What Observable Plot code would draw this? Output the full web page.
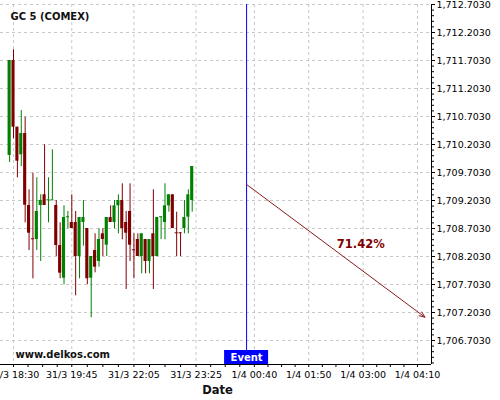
<!DOCTYPE html>
<html><head><meta charset="utf-8">
<script src="https://cdn.jsdelivr.net/npm/d3@7"></script>
<script src="https://cdn.jsdelivr.net/npm/@observablehq/plot@0.6"></script>
<style>
html,body{margin:0;padding:0;background:#fff;}
#chart svg{display:block;}
</style></head><body><div id="chart"></div>
<script>
const symbolName = "GC 5 (COMEX)";
const watermark = "www.delkos.com";
const axisTitle = "Date";

const opens = [1710.007,1711.703,1710.512,1710.019,1710.399,1709.114,1708.519,1708.507,1709.114,1709.305,
  1709.215,1709.215,1709.114,1708.399,1707.815,1708.912,1708.810,1708.810,1708.203,1708.810,
  1708.703,1707.815,1708.310,1708.114,1708.608,1708.405,1708.899,1708.810,1709.108,1709.203,
  1708.810,1709.007,1708.323,1708.507,1708.203,1708.507,1708.114,1708.608,1708.203,1708.912,
  1708.810,1709.108,1709.305,1708.626,1708.626,1708.703,1708.905,1709.203];
const highs = [1711.703,1711.894,1710.512,1710.810,1710.690,1709.394,1709.690,1709.608,1709.305,1710.198,
  1709.608,1710.108,1709.203,1708.805,1709.108,1709.007,1709.305,1709.007,1708.899,1709.203,
  1708.703,1708.203,1708.608,1708.698,1708.698,1708.899,1709.108,1709.203,1709.305,1709.501,
  1709.007,1709.501,1708.608,1708.608,1708.608,1708.507,1708.507,1709.394,1708.899,1708.912,
  1709.501,1709.305,1709.305,1708.994,1708.626,1709.203,1709.394,1709.810];
const lows = [1709.882,1710.305,1709.608,1709.810,1708.805,1708.310,1707.805,1708.310,1708.114,1709.114,
  1708.805,1709.215,1708.203,1707.805,1707.698,1708.698,1708.703,1707.501,1707.805,1708.387,
  1707.698,1707.108,1707.912,1708.012,1708.203,1708.203,1708.810,1708.698,1708.608,1708.501,
  1707.614,1708.114,1707.805,1708.203,1707.894,1707.894,1707.894,1707.614,1708.203,1708.507,
  1708.501,1708.994,1708.703,1708.203,1708.203,1708.608,1708.608,1708.994];
const closes = [1711.703,1710.512,1709.905,1710.399,1709.119,1708.619,1708.519,1709.007,1709.203,1709.114,
  1709.215,1709.215,1708.399,1707.905,1708.899,1708.912,1708.703,1708.203,1708.899,1708.899,
  1707.805,1708.203,1708.012,1708.507,1708.507,1708.899,1708.810,1709.108,1709.203,1708.703,
  1708.619,1708.405,1708.323,1708.203,1708.608,1708.114,1708.507,1708.203,1708.899,1708.912,
  1709.108,1709.305,1708.703,1708.626,1708.626,1708.899,1709.305,1709.810];

const tickIndex = [1, 16, 32, 48, 63, 77, 91, 105];
const tickLabels = ["31/3 18:30","31/3 19:45","31/3 22:05","31/3 23:25","1/4 00:40","1/4 01:50","1/4 03:00","1/4 04:10"];
const yTicks = [1706.703,1707.203,1707.703,1708.203,1708.703,1709.203,1709.703,1710.203,1710.703,1711.203,1711.703,1712.203,1712.703];

const eventIndex = 61;
const eventLabel = "Event";
const forecastFrom = [61, 1709.489];
const forecastTo = [106.9, 1707.119];
const forecastText = "71.42%";

// ---- build tables ----
const UP = "#008000", DOWN = "#800000";
const candles = opens.map((o, i) => ({i, open: o, high: highs[i], low: lows[i], close: closes[i]}));
let prevColor = UP;
candles.forEach((d, k) => {
  const prevClose = k ? candles[k - 1].close : d.open;
  if (d.close > d.open) d.color = UP;
  else if (d.close < d.open) d.color = DOWN;
  else d.color = d.close > prevClose ? UP : d.close < prevClose ? DOWN : prevColor;
  prevColor = d.color;
});
const bodies = candles.filter(d => d.open !== d.close);
const dojis = candles.filter(d => d.open === d.close);
const labelMap = new Map(tickIndex.map((t, k) => [t, tickLabels[k]]));

const xDomain = [-2.35, 108.6];
const yDomain = [1706.2744, 1712.703];

const minorX = [];
for (let k = 0; k < tickIndex.length - 1; k++) {
  const a = tickIndex[k], b = tickIndex[k + 1];
  for (let j = 1; j < 4; j++) minorX.push(a + (b - a) * j / 4);
}
const minorY = [];
for (let v = yTicks[0] - 0.4; v < yTicks[yTicks.length - 1]; v += 0.1) {
  const r = Math.round(v * 1000) / 1000;
  if (!yTicks.some(t => Math.abs(t - r) < 1e-6) && r > yDomain[0]) minorY.push(r);
}
const forecast = [{x1: forecastFrom[0], y1: forecastFrom[1], x2: forecastTo[0], y2: forecastTo[1], label: forecastText}];
const gridStyle = {stroke: "#c8c8c8", strokeOpacity: 1, strokeDasharray: "3,3", strokeWidth: 1};

const chart = Plot.plot({
  width: 500, height: 400,
  marginLeft: 0, marginRight: 69, marginTop: 4, marginBottom: 36,
  style: {fontFamily: "'DejaVu Sans', sans-serif", fontSize: "9.5px", background: "#fff", color: "#000"},
  x: {type: "linear", domain: xDomain},
  y: {type: "linear", domain: yDomain},
  marks: [
    Plot.gridY(yTicks, gridStyle),
    Plot.gridX(tickIndex, gridStyle),
    Plot.ruleX(candles, {x: "i", y1: "low", y2: "high", stroke: "color", strokeWidth: 1}),
    Plot.rect(bodies, {x1: d => d.i - 0.4, x2: d => d.i + 0.4, y1: "open", y2: "close", fill: "color"}),
    Plot.ruleY(dojis, {y: "close", x1: d => d.i - 0.4, x2: d => d.i + 0.4, stroke: "color", strokeWidth: 1}),
    Plot.ruleX([eventIndex], {stroke: "#0000ff", strokeWidth: 1}),
    Plot.arrow(forecast, {x1: "x1", y1: "y1", x2: "x2", y2: "y2", stroke: "#8b1a1a", strokeWidth: 1, headLength: 9, headAngle: 45}),
    Plot.text(forecast, {x: d => d.x1 + 0.64 * (d.x2 - d.x1), y: d => d.y1 + 0.64 * (d.y2 - d.y1), dy: -25, text: "label",
      fill: "#800000", fontWeight: "bold", fontSize: 11.5}),
    Plot.ruleX([xDomain[1]], {stroke: "#000", strokeWidth: 1}),
    Plot.ruleY([yDomain[0]], {stroke: "#000", strokeWidth: 1}),
    Plot.axisY(yTicks, {anchor: "right", tickSize: 3, tickPadding: 2, tickFormat: d3.format(",.4f"), label: null, fontSize: 9.5}),
    Plot.axisY(minorY, {anchor: "right", tickSize: 2, tickFormat: () => "", label: null}),
    Plot.axisX(tickIndex, {anchor: "bottom", tickSize: 3, tickPadding: 4, tickFormat: d => labelMap.get(d), label: null, fontSize: 9.5}),
    Plot.axisX(minorX, {anchor: "bottom", tickSize: 3, tickFormat: () => "", label: null}),
    Plot.text([symbolName], {frameAnchor: "top-left", dx: 10, dy: 8, lineAnchor: "top", textAnchor: "start", fontWeight: "bold", fontSize: 10, fill: "#111"}),
    Plot.text([watermark], {frameAnchor: "bottom-left", dx: 15, dy: -14, lineAnchor: "top", textAnchor: "start", fontWeight: "bold", fontSize: 10, fill: "#111"}),
    Plot.text([axisTitle], {frameAnchor: "bottom", dx: 1.5, dy: 21, lineAnchor: "top", fontWeight: "bold", fontSize: 11.5, fill: "#111"}),
    Plot.text([eventLabel], {x: () => eventIndex, frameAnchor: "bottom", lineAnchor: "top", dy: -10.7, fill: "#fff", fontWeight: "bold", fontSize: 10})
  ]
});
document.getElementById("chart").appendChild(chart);

// blue box behind the event label, positioned from the x scale
const px = chart.scale("x").apply(eventIndex);
const eventText = Array.from(chart.querySelectorAll("text")).find(t => t.textContent === eventLabel);
if (eventText) {
  const eventG = eventText.closest("g") || eventText;
  const box = document.createElementNS("http://www.w3.org/2000/svg", "rect");
  box.setAttribute("x", px - 22);
  box.setAttribute("y", 400 - 36 - 14);
  box.setAttribute("width", 44);
  box.setAttribute("height", 14);
  box.setAttribute("fill", "#0000ff");
  eventG.parentNode.insertBefore(box, eventG);
}
</script></body></html>
